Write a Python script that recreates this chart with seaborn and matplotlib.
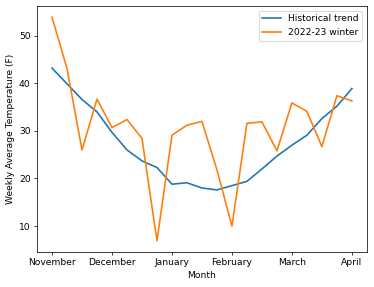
import pandas as pd
import numpy as np
import matplotlib
matplotlib.use("Agg")
import matplotlib.pyplot as plt
import seaborn as sns

# Weekly averages, November through April (21 weeks)
week = list(range(21))
historical = [43.2, 39.9, 36.6, 34.0, 29.7, 26.0, 23.7, 22.3, 18.8, 19.1, 18.0,
              17.6, 18.5, 19.4, 22.0, 24.7, 27.0, 29.1, 32.6, 35.2, 38.9]
winter = [53.9, 43.1, 26.0, 36.7, 30.7, 32.4, 28.4, 6.9, 29.1, 31.2, 32.0,
          21.8, 10.0, 31.6, 31.9, 25.8, 35.9, 34.1, 26.7, 37.4, 36.3]
month_ticks = [0, 4, 8, 12, 16, 20]
month_labels = ['November', 'December', 'January', 'February', 'March', 'April']

df = pd.DataFrame({'Week': week, 'Historical': historical, 'Winter': winter})

dpi = 66
fig, ax = plt.subplots(figsize=(374 / dpi, 287 / dpi), dpi=dpi)
fig.subplots_adjust(left=0.099, right=0.981, top=0.979, bottom=0.122)

sns.lineplot(data=df, x='Week', y='Historical', label='Historical trend', ax=ax, linewidth=1.8)
sns.lineplot(data=df, x='Week', y='Winter', label='2022-23 winter', ax=ax, linewidth=1.8)

ax.set_xticks(month_ticks)
ax.set_xticklabels(month_labels)
ax.set_xlabel('Month')
ax.set_ylabel('Weekly Average Temperature (F)')
ax.legend(loc='upper right')

fig.savefig('out.png', dpi=dpi)
